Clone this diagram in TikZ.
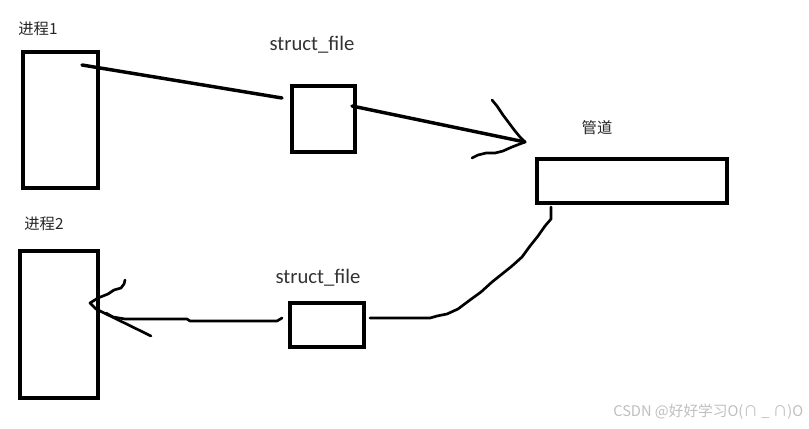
\documentclass[tikz,border=0pt]{standalone}
\usepackage{fontspec}
\setmainfont{Carlito}
\newfontfamily\cjk{Noto Sans CJK SC}
\begin{document}
\begin{tikzpicture}[x=0.75pt,y=-0.75pt,
  box/.style={draw=black,line width=3pt,inner sep=0pt,fill=none},
  lbl/.style={inner sep=0pt,font=\fontsize{15.5}{17}\selectfont,text=black!80},
  cjklbl/.style={inner sep=0pt,font=\cjk\fontsize{11.5}{13}\selectfont,text=black!85},
  conn/.style={line width=2.6pt,line cap=round,line join=round},
  thin/.style={line width=2pt,line cap=round,line join=round}]
\useasboundingbox (0,0) rectangle (809,428);
\fill[white] (0,0) rectangle (809,428);
% boxes
\node[box,minimum width=56.25pt,minimum height=102pt] (p1) at (60.5,120) {};
\node[box,minimum width=47.25pt,minimum height=49.5pt] (sf1) at (323.5,119) {};
\node[box,minimum width=142.5pt,minimum height=33pt] (pipe) at (632,181) {};
\node[box,minimum width=58.5pt,minimum height=110.25pt] (p2) at (59,324.5) {};
\node[box,minimum width=55.5pt,minimum height=33pt] (sf2) at (327,325) {};
% labels
\node[cjklbl] (l1) at (38,29) {进程1};
\node[lbl] (l2) at (312,45) {struct\_file};
\node[cjklbl] (l3) at (597,128) {管道};
\node[cjklbl] (l4) at (44,224) {进程2};
\node[lbl] (l5) at (318,278) {struct\_file};
\node[anchor=west,inner sep=0pt,font=\cjk\fontsize{11}{13}\selectfont,text=black!25] (wm) at (613,412) {CSDN @好好学习O(∩ \_ ∩)O};
% coordinates
\coordinate (a1) at (82,65);
\coordinate (a2) at (282,98);
\coordinate (b1) at (352,106);
\coordinate (tip1) at (525,142);
\coordinate (h1) at (492,100);
\coordinate (h2) at (472,158);
\coordinate (c1) at (551,207);
\coordinate (c2) at (370,318);
\coordinate (tip2) at (90,303);
\coordinate (h3) at (125,280);
\coordinate (h4) at (151,336);
% connectors
\draw[conn] (a1) -- (a2);
\draw[conn] (b1) -- (tip1);
\draw[thin] (h1) -- (497,106) -- (503,115) -- (509,123) -- (515,131) -- (520,137) -- (tip1);
\draw[thin] (h2) -- (478,155) -- (486,153) -- (495,153) -- (503,151) -- (512,147) -- (tip1);
\draw[thin] (c1) -- (551,219) -- (545,226) -- (538,236) -- (530,246) -- (522,257)
  -- (512,266) -- (502,274) -- (492,282) -- (481,292) -- (470,300) -- (458,309)
  -- (447,314) -- (437,316) -- (430,318) -- (c2);
\draw[thin] (sf2.west) ++(-6,-7) -- (277,321) -- (190,321) -- (187,319) -- (125,319) -- (113,317) -- (106,313);
\draw[thin] (h3) -- (124,284) -- (121,288) -- (114,290) -- (108,294) -- (98,298) -- (tip2) -- (96,309) -- (h4);
\end{tikzpicture}
\end{document}
